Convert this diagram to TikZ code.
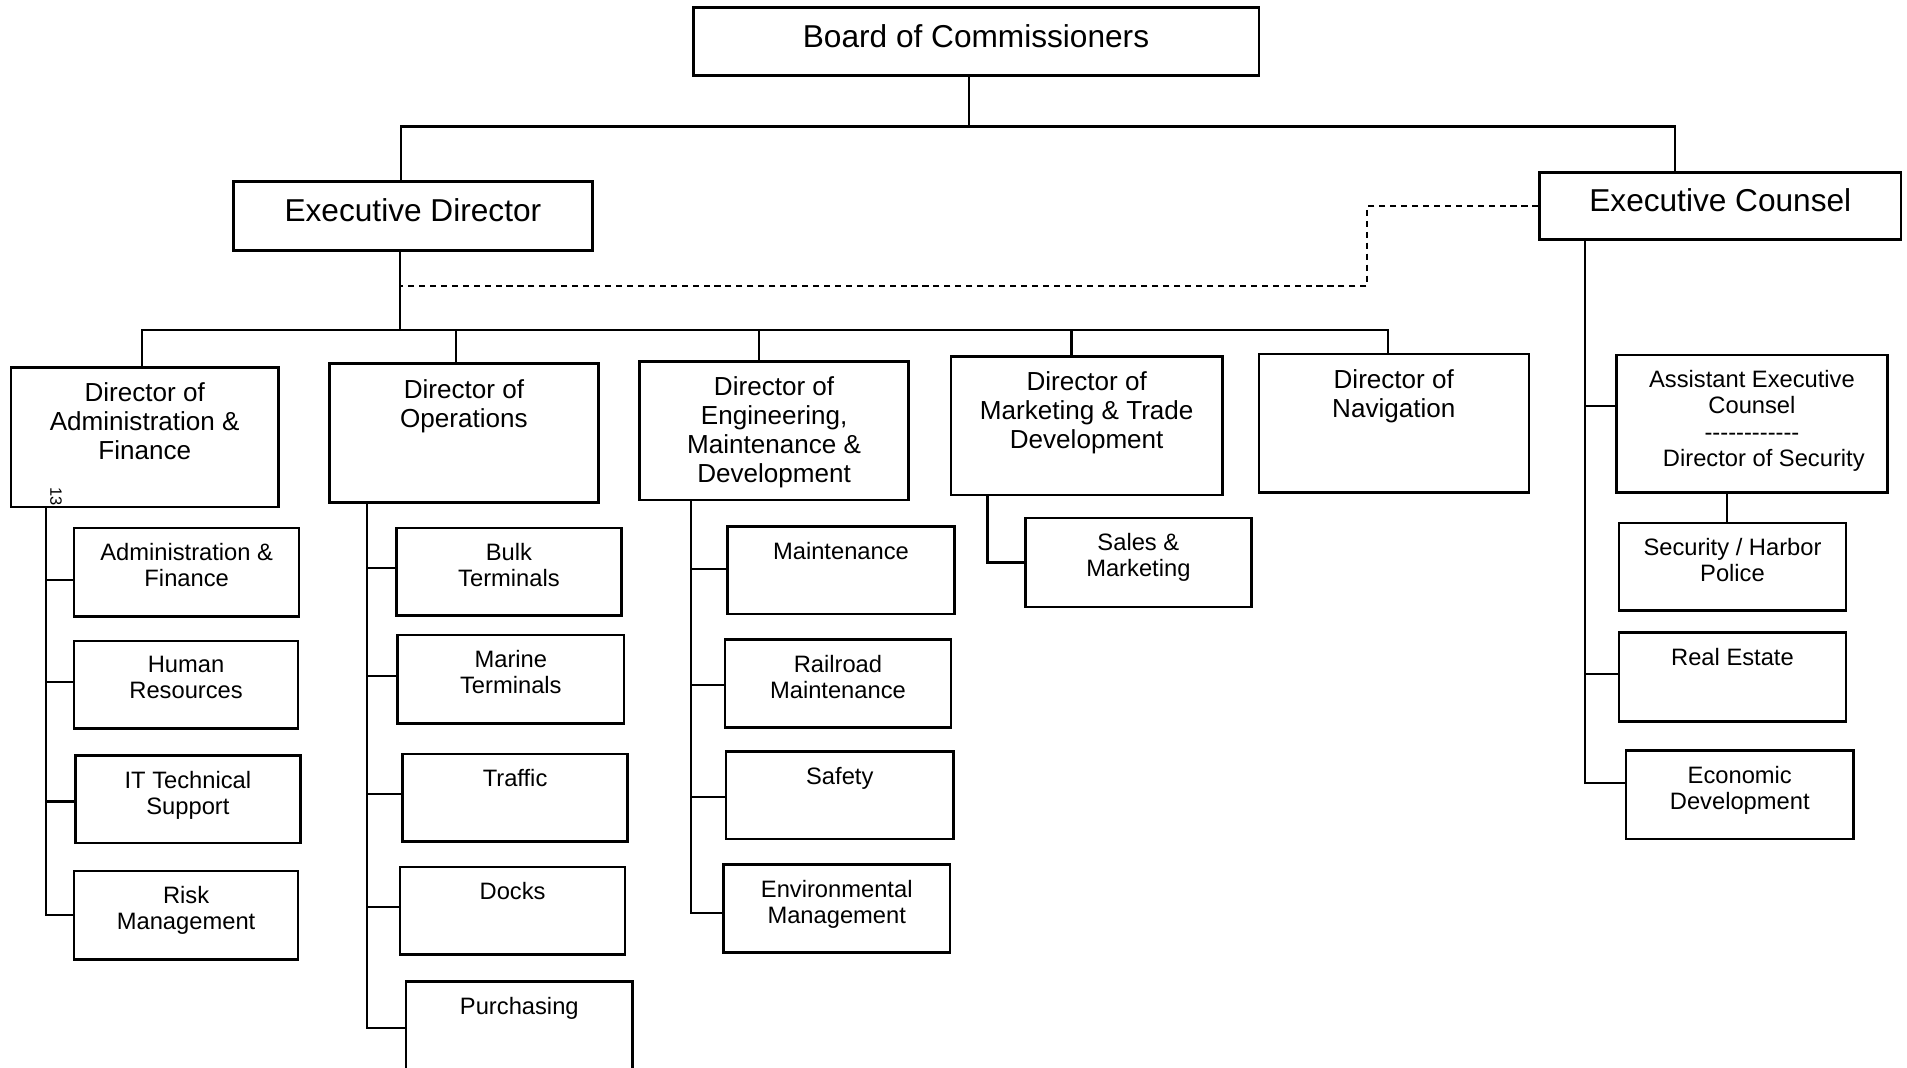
\documentclass[tikz,border=0pt]{standalone}
\usepackage{fontspec}
\setmainfont{Liberation Sans}
\usepackage{tikz}
\usetikzlibrary{fit}

\tikzset{
  orgbox/.style={draw, line width=1.2pt, inner sep=0pt},
  bigtext/.style={inner sep=0pt, yshift=0.9mm, font=\fontsize{14.8}{17}\selectfont},
  dirtext/.style={anchor=north, align=center, inner sep=0pt, yshift=-2.7mm, font=\fontsize{12.2}{13.6}\selectfont},
  subtext/.style={anchor=north, align=center, inner sep=0pt, yshift=-2.7mm, font=\fontsize{11.1}{12.2}\selectfont},
  link/.style={line width=1pt},
  dotlink/.style={line width=1pt, dash pattern=on 1mm off 0.8mm}
}
\newcommand{\dashrow}{\hbox to 4em{\cleaders\hbox{-}\hfill}}

\begin{document}
\begin{tikzpicture}[x=0.2mm, y=-0.2mm]
    \useasboundingbox (0,0) rectangle (1568,878);

    % top level
    \node[orgbox, fit={(570,6) (1035,62)}, label={[bigtext]center:{Board of Commissioners}}] (bc) {};
    \node[orgbox, fit={(192,149) (487,206)}, label={[bigtext]center:{Executive Director}}] (ed) {};
    \node[orgbox, fit={(1266,142) (1563,197)}, label={[bigtext]center:{Executive Counsel}}] (ec) {};

    % directors
    \node[orgbox, fit={(9,302) (229,417)}, label={[dirtext]north:{Director of\\Administration \&\\Finance}}] (daf) {};
    \node[orgbox, fit={(271,299) (492,413)}, label={[dirtext]north:{Director of\\Operations}}] (dop) {};
    \node[orgbox, fit={(526,297) (747,411)}, label={[dirtext]north:{Director of\\Engineering,\\Maintenance \&\\Development}}] (dem) {};
    \node[orgbox, fit={(782,293) (1005,407)}, label={[dirtext]north:{Director of\\Marketing \& Trade\\Development}}] (dmt) {};
    \node[orgbox, fit={(1035,291) (1257,405)}, label={[dirtext]north:{Director of\\Navigation}}] (dnv) {};
    \node[orgbox, fit={(1329,292) (1552,405)}, label={[subtext]north:{Assistant Executive\\Counsel\\\dashrow\\\hspace*{1em}Director of Security}}] (aec) {};

    \node[rotate=-90, inner sep=0pt, font=\fontsize{7.7}{9}\selectfont] (pg) at (46,408) {13};

    % administration & finance
    \node[orgbox, fit={(61,434) (246,507)}, label={[subtext]north:{Administration \&\\Finance}}] (af) {};
    \node[orgbox, fit={(61,527) (245,599)}, label={[subtext]north:{Human\\Resources}}] (hr) {};
    \node[orgbox, fit={(62,621) (247,693)}, label={[subtext]north:{IT Technical\\Support}}] (it) {};
    \node[orgbox, fit={(61,716) (245,789)}, label={[subtext]north:{Risk\\Management}}] (rm) {};

    % operations
    \node[orgbox, fit={(326,434) (511,506)}, label={[subtext]north:{Bulk\\Terminals}}] (bt) {};
    \node[orgbox, fit={(327,522) (513,595)}, label={[subtext]north:{Marine\\Terminals}}] (mt) {};
    \node[orgbox, fit={(331,620) (516,692)}, label={[subtext]north:{Traffic}}] (tr) {};
    \node[orgbox, fit={(329,713) (514,785)}, label={[subtext]north:{Docks}}] (dk) {};
    \node[orgbox, fit={(334,807) (520,884)}, label={[subtext]north:{Purchasing}}] (pu) {};

    % engineering
    \node[orgbox, fit={(598,433) (785,505)}, label={[subtext]north:{Maintenance}}] (mn) {};
    \node[orgbox, fit={(596,526) (782,598)}, label={[subtext]north:{Railroad\\Maintenance}}] (rr) {};
    \node[orgbox, fit={(597,618) (784,690)}, label={[subtext]north:{Safety}}] (sf) {};
    \node[orgbox, fit={(595,711) (781,783)}, label={[subtext]north:{Environmental\\Management}}] (em) {};

    % marketing
    \node[orgbox, fit={(843,426) (1029,499)}, label={[subtext]north:{Sales \&\\Marketing}}] (sm) {};

    % counsel
    \node[orgbox, fit={(1331,430) (1518,502)}, label={[subtext]north:{Security / Harbor\\Police}}] (sp) {};
    \node[orgbox, fit={(1331,520) (1518,593)}, label={[subtext]north:{Real Estate}}] (re) {};
    \node[orgbox, fit={(1337,617) (1524,690)}, label={[subtext]north:{Economic\\Development}}] (ecd) {};

    % connectors
    \draw[link] (bc.south -| 797,0) -- ++(0,41) -| (ed.north -| 330,0);
    \draw[link] (bc.south -| 797,0) -- ++(0,41) -| (ec.north -| 1377,0);
    \foreach \n/\x in {daf/117, dop/375, dem/624, dmt/881, dnv/1141}
        \draw[link] (ed.south -| 329,0) -- ++(0,64) -| (\n.north -| \x,0);
    \draw[dotlink] (ec.west) -| (1124,235) -| (ed.south -| 329,0);

    \foreach \n/\y in {af/477, hr/561, it/659, rm/752}
        \draw[link] (daf.south -| 38,0) |- (\n.west |- 0,\y);
    \foreach \n/\y in {bt/467, mt/556, tr/653, dk/746, pu/845}
        \draw[link] (dop.south -| 302,0) |- (\n.west |- 0,\y);
    \foreach \n/\y in {mn/468, rr/563, sf/655, em/751}
        \draw[link] (dem.south -| 568,0) |- (\n.west |- 0,\y);
    \draw[link] (dmt.south -| 812,0) |- (sm.west);
    \foreach \n/\y in {aec/334, re/554, ecd/644}
        \draw[link] (ec.south -| 1303,0) |- (\n.west |- 0,\y);
    \draw[link] (aec.south -| 1420,0) -- (sp.north -| 1420,0);
\end{tikzpicture}
\end{document}
